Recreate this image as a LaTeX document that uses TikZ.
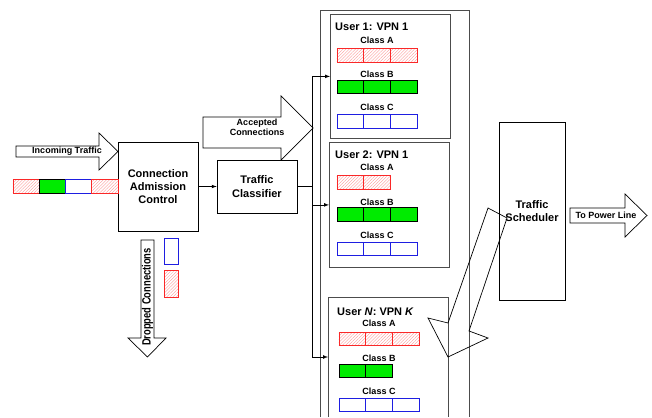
\documentclass[tikz,border=0pt]{standalone}
\usepackage{fontspec}
\setmainfont{Liberation Sans}
\usetikzlibrary{positioning, arrows, patterns.meta}
\usepackage{xcolor}
\definecolor{queuegreen}{RGB}{0,235,0}
\definecolor{queuered}{RGB}{250,40,40}
\definecolor{queueblue}{RGB}{30,30,225}

\begin{document}
\begin{tikzpicture}[x=1pt, y=-1pt]
  \tikzset{
    block/.style={
      draw,
      line width=0.7pt,
      align=center,
      inner sep=0pt,
      font=\fontsize{11}{13.3}\selectfont\bfseries
    },
    userbox/.style={
      draw=black!70,
      line width=0.8pt,
      anchor=north west,
      minimum width=120pt,
      minimum height=124pt,
      inner sep=0pt
    },
    userline/.style={
      draw=black!70,
      line width=0.8pt
    },
    usertitle/.style={
      anchor=west,
      inner sep=0pt,
      font=\fontsize{11}{13}\selectfont\bfseries
    },
    classlabel/.style={
      inner sep=0pt,
      font=\fontsize{9}{10}\selectfont\bfseries
    },
    arrowlabel/.style={
      inner sep=0pt,
      align=center,
      font=\fontsize{9}{10}\selectfont\bfseries
    },
    hatchcell/.style={
      draw=queuered,
      line width=0.6pt,
      pattern={Lines[angle=45, distance=2.2pt, line width=0.35pt]},
      pattern color=queuered!50,
      minimum width=26.67pt,
      minimum height=13.5pt,
      inner sep=0pt,
      outer sep=0pt
    },
    greencell/.style={
      draw=black,
      line width=0.6pt,
      fill=queuegreen,
      minimum width=26.67pt,
      minimum height=13.5pt,
      inner sep=0pt,
      outer sep=0pt
    },
    bluecell/.style={
      draw=queueblue,
      line width=0.6pt,
      fill=white,
      minimum width=26.67pt,
      minimum height=13.5pt,
      inner sep=0pt,
      outer sep=0pt
    },
    blockarrow/.style={
      draw,
      line width=0.7pt,
      line join=miter
    },
    flow/.style={
      ->,
      >=latex,
      line width=0.7pt
    }
  }

  \useasboundingbox (0,0) rectangle (652,417);

  % Draw the admission and classifier blocks
  \node[block, minimum width=80pt, minimum height=89pt] at (158,186.5) (cac) {Connection\\Admission\\Control};
  \node[block, minimum width=80pt, minimum height=53pt] at (257,186.5) (tc) {Traffic\\Classifier};
  \node[block, minimum width=66pt, minimum height=178pt] at (532,211) (sched) {Traffic\\Scheduler};

  % Incoming traffic
  \draw[blockarrow] (16,146) -- (99,146) -- (99,133) -- (118,151.5) -- (99,170) -- (99,157) -- (16,157) -- cycle;
  \node[arrowlabel] at (67,151.5) (inlabel) {Incoming Traffic};

  \node[hatchcell, minimum width=26.25pt, minimum height=14pt] at (26.1,186) (in1) {};
  \node[greencell, minimum width=26.25pt, minimum height=14pt, right=0pt of in1] (in2) {};
  \node[bluecell, minimum width=26.25pt, minimum height=14pt, right=0pt of in2] (in3) {};
  \node[hatchcell, minimum width=26.25pt, minimum height=14pt, right=0pt of in3] (in4) {};

  % Dropped connections
  \draw[blockarrow] (141,240) -- (154,240) -- (154,338) -- (166,338) -- (147.5,357) -- (128,338) -- (141,338) -- cycle;
  \node[arrowlabel, rotate=90] at (147.5,297) (droplabel) {\scalebox{0.78}[1]{\fontsize{12}{12}\selectfont Dropped Connections}};
  \node[bluecell, minimum width=14pt, minimum height=26pt] at (171,251) (drop1) {};
  \node[hatchcell, minimum width=14pt, minimum height=27pt] at (171,283.5) (drop2) {};

  % Accepted connections
  \draw[blockarrow] (203,117) -- (281,117) -- (281,96) -- (313,128) -- (281,160) -- (281,148) -- (203,148) -- cycle;
  \node[arrowlabel] at (257,127) (acclabel) {Accepted\\Connections};

  \draw[flow] (cac) -- (tc);

  % Queues of every user
  \draw[userline] (320,417) -- (320,10) -- (469,10) -- (469,417);

  \node[userbox] at (330,14) (u1) {};
  \node[usertitle] at (335,27) (u1title) {User 1: VPN 1};
  \node[classlabel] at (377,40) (u1aLabel) {Class A};
  \node[hatchcell] at (350.3,55.5) (u1a1) {};
  \node[hatchcell, right=0pt of u1a1] (u1a2) {};
  \node[hatchcell, right=0pt of u1a2] (u1a3) {};
  \node[classlabel] at (377,74) (u1bLabel) {Class B};
  \node[greencell] at (350.3,87) (u1b1) {};
  \node[greencell, right=0pt of u1b1] (u1b2) {};
  \node[greencell, right=0pt of u1b2] (u1b3) {};
  \node[classlabel] at (377,107) (u1cLabel) {Class C};
  \node[bluecell] at (350.3,121.5) (u1c1) {};
  \node[bluecell, right=0pt of u1c1] (u1c2) {};
  \node[bluecell, right=0pt of u1c2] (u1c3) {};

  \node[userbox, minimum height=125pt] at (329,142) (u2) {};
  \node[usertitle] at (335,155) (u2title) {User 2: VPN 1};
  \node[classlabel] at (377,167) (u2aLabel) {Class A};
  \node[hatchcell] at (350.3,182.5) (u2a1) {};
  \node[hatchcell, right=0pt of u2a1] (u2a2) {};
  \node[classlabel] at (377,202) (u2bLabel) {Class B};
  \node[greencell] at (350.3,214.5) (u2b1) {};
  \node[greencell, right=0pt of u2b1] (u2b2) {};
  \node[greencell, right=0pt of u2b2] (u2b3) {};
  \node[classlabel] at (377,235) (u2cLabel) {Class C};
  \node[bluecell] at (350.3,249) (u2c1) {};
  \node[bluecell, right=0pt of u2c1] (u2c2) {};
  \node[bluecell, right=0pt of u2c2] (u2c3) {};

  \draw[userline] (328,417) -- (328,297) -- (448,297) -- (448,417);
  \coordinate (uNin) at (328,357);
  \node[usertitle] at (337,312) (uNtitle) {User \textit{N}: VPN \textit{K}};
  \node[classlabel] at (379,323) (uNaLabel) {Class A};
  \node[hatchcell] at (352.3,339) (uNa1) {};
  \node[hatchcell, right=0pt of uNa1] (uNa2) {};
  \node[hatchcell, right=0pt of uNa2] (uNa3) {};
  \node[classlabel] at (379,358) (uNbLabel) {Class B};
  \node[greencell] at (352.3,371) (uNb1) {};
  \node[greencell, right=0pt of uNb1] (uNb2) {};
  \node[classlabel] at (379,391) (uNcLabel) {Class C};
  \node[bluecell] at (352.3,405) (uNc1) {};
  \node[bluecell, right=0pt of uNc1] (uNc2) {};
  \node[bluecell, right=0pt of uNc2] (uNc3) {};

  % Classifier to the queues
  \coordinate (trunk) at (312,186.5);
  \draw[line width=1.4pt] (tc.east) -- (trunk);
  \draw[flow] (trunk) |- (u1.west);
  \draw[flow] (trunk) |- (u2.west);
  \draw[flow] (trunk) |- (uNin);

  % Scheduler pulls from the queues
  \draw[blockarrow] (488,208) -- (507,218) -- (469,331) -- (488,338) -- (448,357) -- (428,318) -- (448,323) -- cycle;

  % To the power line
  \draw[blockarrow] (570,208) -- (625,208) -- (625,194) -- (647,215.5) -- (625,237) -- (625,223) -- (570,223) -- cycle;
  \node[arrowlabel] at (606,215.5) (outlabel) {To Power Line};

\end{tikzpicture}
\end{document}
